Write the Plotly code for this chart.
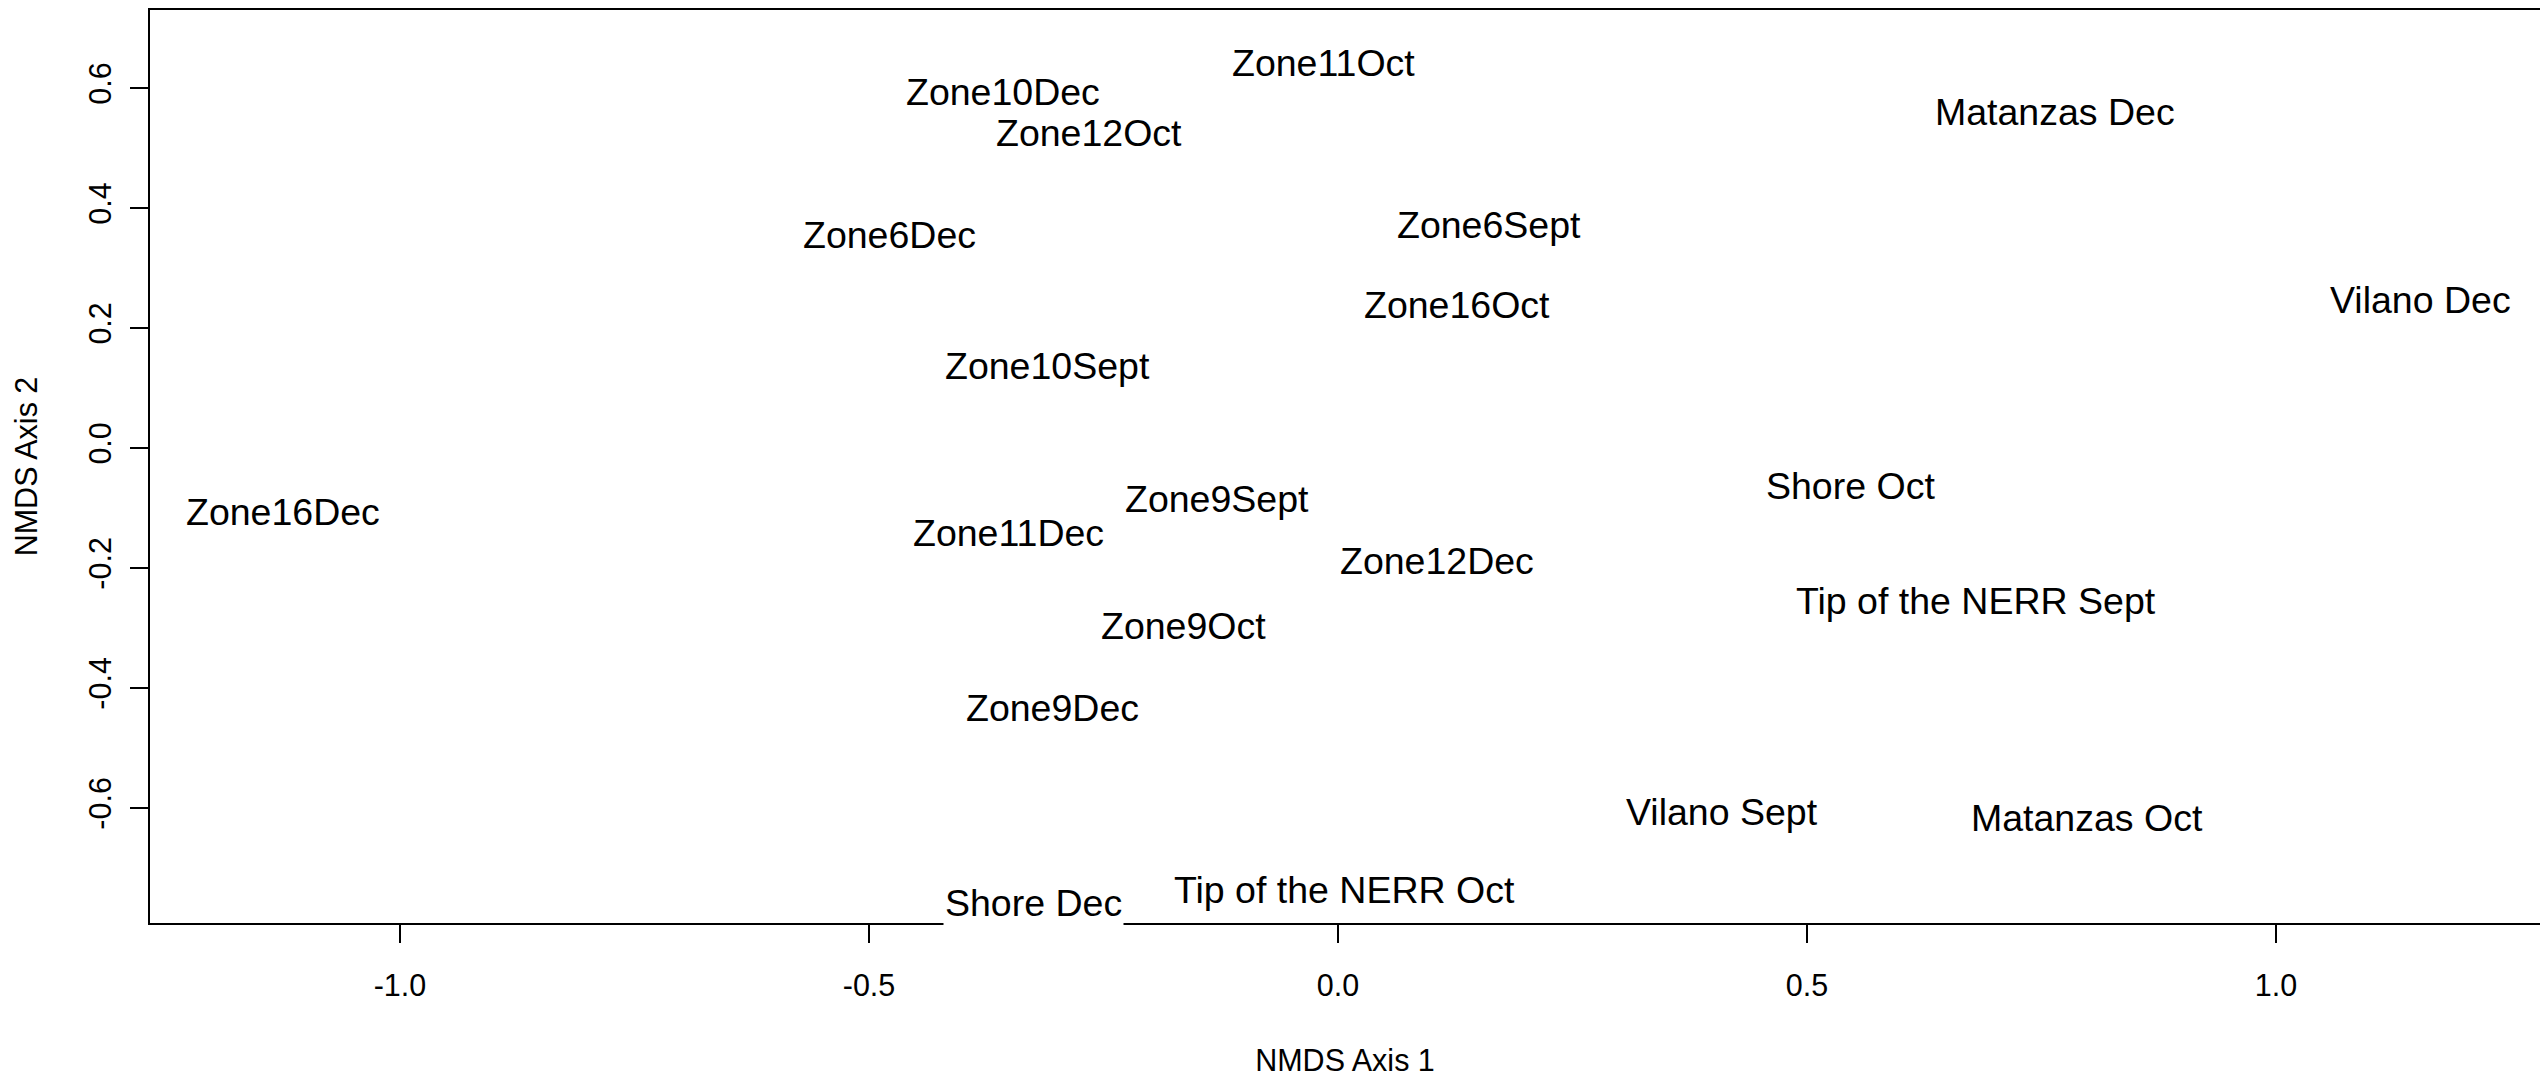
import plotly.graph_objects as go

# Site / month labels and their NMDS coordinates
labels = ["Zone11Oct", "Zone10Dec", "Zone12Oct", "Matanzas Dec", "Zone6Dec",
          "Zone6Sept", "Vilano Dec", "Zone16Oct", "Zone10Sept", "Zone16Dec",
          "Shore Oct", "Zone9Sept", "Zone11Dec", "Zone12Dec", "Tip of the NERR Sept",
          "Zone9Oct", "Zone9Dec", "Vilano Sept", "Matanzas Oct", "Tip of the NERR Oct",
          "Shore Dec"]
nmds1 = [-0.015, -0.357, -0.266, 0.764, -0.478,
         0.161, 1.154, 0.127, -0.310, -1.125,
         0.546, -0.129, -0.351, 0.106, 0.680,
         -0.165, -0.304, 0.409, 0.798, 0.007,
         -0.325]
nmds2 = [0.642, 0.593, 0.525, 0.560, 0.355,
         0.371, 0.247, 0.239, 0.136, -0.106,
         -0.063, -0.085, -0.142, -0.188, -0.255,
         -0.296, -0.433, -0.606, -0.617, -0.737,
         -0.759]

x_ticks = [-1.0, -0.5, 0.0, 0.5, 1.0]
x_tick_text = ["-1.0", "-0.5", "0.0", "0.5", "1.0"]
y_ticks = [-0.6, -0.4, -0.2, 0.0, 0.2, 0.4, 0.6]
y_tick_text = ["-0.6", "-0.4", "-0.2", "0.0", "0.2", "0.4", "0.6"]

FONT = "Liberation Sans, Arial, sans-serif"
AX_SIZE = 30.5
LBL_SIZE = 37.5

fig = go.Figure()
fig.add_trace(go.Scatter(x=nmds1, y=nmds2, mode="markers",
                         marker=dict(size=1, color="rgba(0,0,0,0)"),
                         hoverinfo="text", text=labels, showlegend=False))

for name, xv, yv in zip(labels, nmds1, nmds2):
    fig.add_annotation(x=xv, y=yv, xref="x", yref="y", text=name,
                       showarrow=False, bgcolor="white", borderpad=1,
                       font=dict(family=FONT, size=LBL_SIZE, color="black"))

fig.update_layout(
    width=2540, height=1077,
    margin=dict(l=150, r=0, t=10, b=154, autoexpand=False),
    paper_bgcolor="white", plot_bgcolor="white",
    font=dict(family=FONT, size=AX_SIZE, color="black"),
    showlegend=False,
    xaxis=dict(range=[-1.2665, 1.2814], tickvals=x_ticks, ticktext=x_tick_text,
               ticks="outside", ticklen=18, tickwidth=2, tickcolor="black",
               showline=True, linewidth=2, linecolor="black", mirror=True,
               showgrid=False, zeroline=False, automargin=False,
               tickfont=dict(family=FONT, size=AX_SIZE, color="black"),
               ticklabelstandoff=16,
               title=dict(text="NMDS Axis 1", standoff=54,
                          font=dict(family=FONT, size=AX_SIZE, color="black"))),
    yaxis=dict(range=[-0.7917, 0.7300], tickvals=y_ticks, ticktext=y_tick_text,
               ticks="outside", ticklen=18, tickwidth=2, tickcolor="black",
               showline=True, linewidth=2, linecolor="black", mirror=False,
               showgrid=False, zeroline=False, tickangle=-90, automargin=False,
               tickfont=dict(family=FONT, size=AX_SIZE, color="black"),
               ticklabelstandoff=7,
               title=dict(text="NMDS Axis 2", standoff=36,
                          font=dict(family=FONT, size=AX_SIZE, color="black"))),
)

fig.write_html("out.html",
               config={"displayModeBar": False},
               post_script="document.body.style.margin='0';"
                           "document.body.style.overflow='hidden';")
